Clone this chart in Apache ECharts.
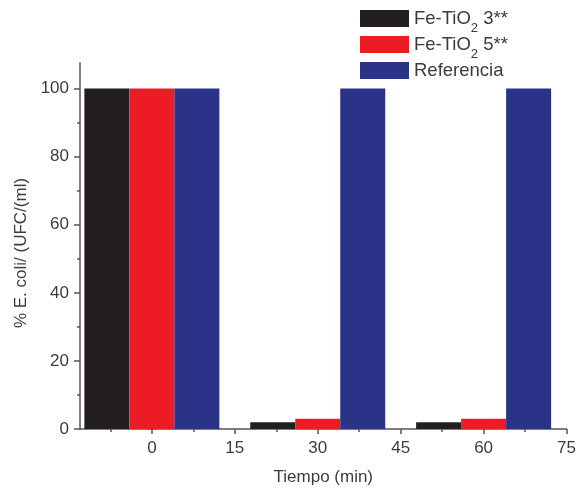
<!DOCTYPE html>
<html>
<head>
<meta charset="utf-8">
<script src="https://cdn.jsdelivr.net/npm/echarts@6/dist/echarts.min.js"></script>
<style>
  html, body { margin: 0; padding: 0; background: #fff; }
  #chart { width: 579px; height: 494px; }
</style>
</head>
<body>
<div id="chart"></div>
<script>
// tiempo (min)
const times = [0, 30, 60];
// % E. coli
const feTiO2_3 = [100, 2, 2];
const feTiO2_5 = [100, 3, 3];
const referencia = [100, 100, 100];

const xTicks = [0, 15, 30, 45, 60, 75];
const xMinorTicks = [-7.5, 7.5, 22.5, 37.5, 52.5, 67.5];
const yTicks = [0, 20, 40, 60, 80, 100];
const yMinorTicks = [10, 30, 50, 70, 90];

const axisColor = "#555";
const textColor = "#3c3c3c";
const font = "Liberation Sans";

const pairs = (vals) => times.map((t, i) => [t, vals[i]]);

const chart = echarts.init(document.getElementById("chart"));

chart.setOption({
  animation: false,
  grid: { left: 80, right: 7, top: 63, bottom: 65 },
  legend: {
    orient: "vertical",
    left: 355,
    top: 4,
    itemWidth: 49,
    itemHeight: 17,
    itemGap: 0,
    icon: "rect",
    formatter: (name) => {
      if (name === "Fe-TiO2 3**") return "{a|Fe-TiO}{s|2}{a| 3**}";
      if (name === "Fe-TiO2 5**") return "{a|Fe-TiO}{s|2}{a| 5**}";
      return "{a|" + name + "}";
    },
    textStyle: {
      color: textColor,
      fontFamily: font,
      rich: {
        a: { fontSize: 18.5, lineHeight: 23, color: textColor, fontFamily: font },
        s: { fontSize: 13, lineHeight: 13, verticalAlign: "bottom", padding: [0, 0, -5, 0], color: textColor, fontFamily: font },
      },
    },
    data: ["Fe-TiO2 3**", "Fe-TiO2 5**", "Referencia"],
  },
  xAxis: [
    {
      type: "value",
      min: -13,
      max: 75,
      name: "Tiempo (min)",
      nameLocation: "middle",
      nameGap: 40,
      nameTextStyle: { fontSize: 17, color: textColor, fontFamily: font },
      axisLine: { show: true, lineStyle: { color: axisColor, width: 1.5 } },
      axisTick: { show: true, length: 5, customValues: xTicks, lineStyle: { color: axisColor, width: 1.5 } },
      axisLabel: { customValues: xTicks, fontSize: 17, color: textColor, margin: 11, fontFamily: font },
      splitLine: { show: false },
    },
    {
      type: "value",
      min: -13,
      max: 75,
      position: "bottom",
      axisLine: { show: false },
      axisTick: { show: true, length: 3, customValues: xMinorTicks, lineStyle: { color: axisColor, width: 1.5 } },
      axisLabel: { show: false },
      splitLine: { show: false },
    },
  ],
  yAxis: [
    {
      type: "value",
      min: 0,
      max: 107.5,
      name: "% E. coli/ (UFC/(ml)",
      nameLocation: "middle",
      nameGap: 50,
      nameTextStyle: { fontSize: 17, color: textColor, fontFamily: font, padding: [0, 14, 0, 0] },
      axisLine: { show: true, onZero: false, lineStyle: { color: axisColor, width: 1.5 } },
      axisTick: { show: true, length: 6, customValues: yTicks, lineStyle: { color: axisColor, width: 1.5 } },
      axisLabel: { customValues: yTicks, fontSize: 17, color: textColor, margin: 11, fontFamily: font },
      splitLine: { show: false },
    },
    {
      type: "value",
      min: 0,
      max: 107.5,
      position: "left",
      axisLine: { show: false, onZero: false },
      axisTick: { show: true, length: 3, customValues: yMinorTicks, lineStyle: { color: axisColor, width: 1.5 } },
      axisLabel: { show: false },
      splitLine: { show: false },
    },
  ],
  series: [
    {
      name: "Fe-TiO2 3**",
      type: "bar",
      barWidth: 45,
      barGap: "0%",
      itemStyle: { color: "#231f20" },
      data: pairs(feTiO2_3),
    },
    {
      name: "Fe-TiO2 5**",
      type: "bar",
      barWidth: 45,
      barGap: "0%",
      itemStyle: { color: "#ed1c24" },
      data: pairs(feTiO2_5),
    },
    {
      name: "Referencia",
      type: "bar",
      barWidth: 45,
      barGap: "0%",
      itemStyle: { color: "#2b3388" },
      data: pairs(referencia),
    },
  ],
});
</script>
</body>
</html>
